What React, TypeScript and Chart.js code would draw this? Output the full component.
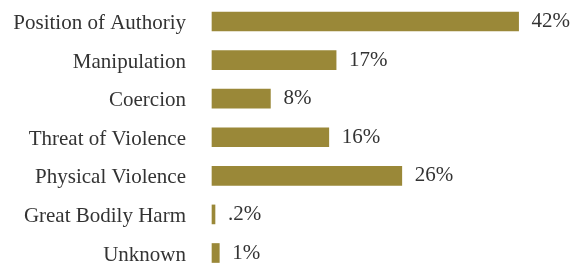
import React, { useEffect, useRef } from "react";
import { Chart, registerables } from "chart.js";

Chart.register(...registerables);

const categories = [
  "Position of Authoriy",
  "Manipulation",
  "Coercion",
  "Threat of Violence",
  "Physical Violence",
  "Great Bodily Harm",
  "Unknown",
];
const values = [42, 17, 8, 16, 26, 0.2, 1];
const valueLabels = ["42%", "17%", "8%", "16%", "26%", ".2%", "1%"];

const FONT_FAMILY = "'Liberation Serif', 'DejaVu Serif', serif";
const TEXT_COLOR = "#333333";
const BAR_COLOR = "#9a8838";

const labelPlugin = {
  id: "customLabels",
  afterDatasetsDraw(chart: any) {
    const ctx = chart.ctx;
    const meta = chart.getDatasetMeta(0);
    const yScale = chart.scales.y;
    ctx.save();
    ctx.font = `21px ${FONT_FAMILY}`;
    ctx.fillStyle = TEXT_COLOR;
    ctx.textBaseline = "middle";
    // category labels
    ctx.textAlign = "right";
    categories.forEach((c, i) => {
      ctx.fillText(c, chart.chartArea.left - 26, yScale.getPixelForValue(i) + 2);
    });
    // value labels
    ctx.textAlign = "left";
    meta.data.forEach((bar: any, i: number) => {
      ctx.fillText(valueLabels[i], bar.x + 13, bar.y);
    });
    ctx.restore();
  },
};

export default function App() {
  const canvasRef = useRef<HTMLCanvasElement | null>(null);

  useEffect(() => {
    const canvas = canvasRef.current;
    if (!canvas) return;
    const chart = new Chart(canvas, {
      type: "bar",
      data: {
        labels: categories,
        datasets: [
          {
            data: values,
            backgroundColor: BAR_COLOR,
            borderWidth: 0,
            barThickness: 19,
            minBarLength: 3,
            clip: false as any,
          },
        ],
      },
      options: {
        indexAxis: "y",
        animation: false,
        responsive: false,
        maintainAspectRatio: false,
        layout: { padding: { top: 21.5, bottom: 12, left: 0, right: 0 } },
        plugins: {
          legend: { display: false },
          tooltip: { enabled: false },
        },
        scales: {
          x: {
            display: false,
            min: 0,
            max: 50,
          },
          y: {
            offset: false,
            grid: { display: false, drawTicks: false },
            border: { display: false },
            ticks: { display: false },
            afterFit: (scale: any) => {
              scale.width = 212;
              scale.paddingTop = 0;
              scale.paddingBottom = 0;
            },
          },
        },
      },
      plugins: [labelPlugin],
    });
    return () => chart.destroy();
  }, []);

  return (
    <div style={{ position: "absolute", left: 0, top: 0, width: 577, height: 265, background: "#fff" }}>
      <canvas ref={canvasRef} width={577} height={265} />
    </div>
  );
}
